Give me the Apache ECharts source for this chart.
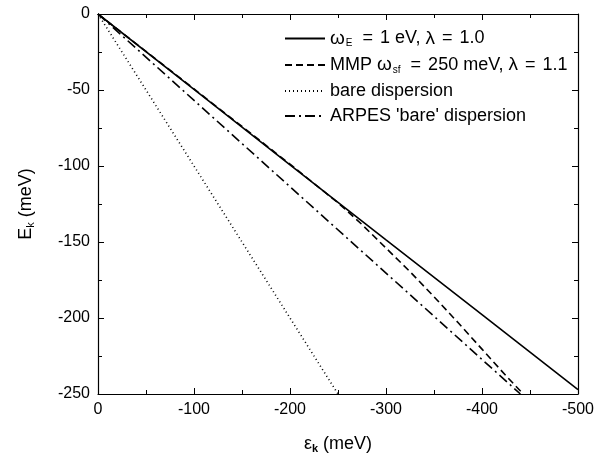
<!DOCTYPE html>
<html><head><meta charset="utf-8">
<script src="https://cdn.jsdelivr.net/npm/echarts@6/dist/echarts.min.js"></script>
<style>html,body{margin:0;padding:0;background:#fff}#c{width:600px;height:460px}</style>
</head><body><div id="c"></div>
<script>
// ---- data (meV) ----
var solidEps = [0, -100, -200, -300, -400, -500];
var solidE   = [0, -49.6, -99.2, -148.6, -197.8, -247.2];
var mmpEps = [0, -50, -100, -150, -200, -250, -275, -300, -325, -350, -375, -400, -425, -443];
var mmpE   = [0, -24.6, -49.3, -74, -98.8, -124.2, -138.5, -154, -169.5, -186, -203, -220.5, -238, -250];
var bareEps = [0, -250];
var bareE   = [0, -250];
var arpesEps = [0, -440];
var arpesE   = [0, -250];
var names = ['solid', 'mmp', 'bare', 'arpes'];

function zip(a, b) { return a.map(function (v, i) { return [v, b[i]]; }); }

var chart = echarts.init(document.getElementById('c'), null, {renderer: 'canvas'});
var FONT = 'Liberation Sans, Arial, sans-serif';
var axisLineStyle = {color: '#000', width: 1.2};
function xAxisCfg(pos, showLabel) {
  return {
    type: 'value', position: pos, min: -500, max: 0, interval: 100, inverse: true,
    axisLine: {show: true, onZero: false, lineStyle: axisLineStyle},
    axisTick: {show: true, inside: true, length: 6, lineStyle: {color: '#000'}},
    minorTick: {show: true, splitNumber: 2, length: 4, lineStyle: {color: '#000'}},
    splitLine: {show: false},
    axisLabel: {show: showLabel, color: '#000', fontFamily: FONT, fontSize: 16, margin: 8,
      formatter: function (v) { return String(v); }}
  };
}
function yAxisCfg(pos, showLabel) {
  return {
    type: 'value', position: pos, min: -250, max: 0, interval: 50,
    axisLine: {show: true, onZero: false, lineStyle: axisLineStyle},
    axisTick: {show: true, inside: true, length: 6, lineStyle: {color: '#000'}},
    minorTick: {show: true, splitNumber: 2, length: 4, lineStyle: {color: '#000'}},
    splitLine: {show: false},
    axisLabel: {show: showLabel, color: '#000', fontFamily: FONT, fontSize: 16, margin: 8,
      formatter: function (v) { return String(v); }}
  };
}
var xa = xAxisCfg('bottom', true);
xa.name = '{n|ε}{s|k}{n| (meV)}';
xa.nameLocation = 'middle';
xa.nameGap = 40;
xa.nameTextStyle = {rich: {n: {fontFamily: FONT, fontSize: 18, color: '#000'},
  s: {fontFamily: FONT, fontSize: 11, color: '#000', fontWeight: 'bold', verticalAlign: 'bottom', padding: [9, 0, 0, 0]}}};
var ya = yAxisCfg('left', true);
ya.name = '{n|E}{s|k}{n| (meV)}';
ya.nameLocation = 'middle';
ya.nameGap = 62;
ya.nameTextStyle = {rich: {n: {fontFamily: FONT, fontSize: 18, color: '#000'},
  s: {fontFamily: FONT, fontSize: 11, color: '#000', verticalAlign: 'bottom', padding: [9, 0, 0, 0]}}};

var labels = {
  solid: '{g|ω}{s|E}{e|=}{n|1 eV, }{g|λ}{e|=}{n|1.0}',
  mmp: '{n|MMP }{g|ω}{s|sf}{e|=}{n|250 meV, }{g|λ}{e|=}{n|1.1}',
  bare: '{n|bare dispersion}',
  arpes: "{n|ARPES 'bare' dispersion}"
};
function ser(name, eps, e, type) {
  return {
    name: name, type: 'line', data: zip(eps, e), showSymbol: false, symbol: 'none',
    lineStyle: {color: '#000', width: 1.6, type: type}, itemStyle: {color: '#000'},
    animation: false, silent: true
  };
}

chart.setOption({
  animation: false,
  grid: {left: 98, right: 22, top: 14, bottom: 66},
  xAxis: [xa, xAxisCfg('top', false)],
  yAxis: [ya, yAxisCfg('right', false)],
  legend: {
    orient: 'vertical', left: 279, top: 24, itemWidth: 40, itemHeight: 12, itemGap: 7,
    data: names,
    itemStyle: {opacity: 0},
    formatter: function (n) { return labels[n]; },
    textStyle: {rich: {
      n: {fontFamily: FONT, fontSize: 18, color: '#000', lineHeight: 20},
      g: {fontFamily: FONT, fontSize: 19, color: '#000', lineHeight: 20},
      e: {fontFamily: FONT, fontSize: 18, color: '#000', lineHeight: 20, padding: [0, 7, 0, 7]},
      s: {fontFamily: FONT, fontSize: 10, color: '#000', verticalAlign: 'bottom', padding: [8, 3, 0, 1]}}}
  },
  series: [
    ser('solid', solidEps, solidE, 'solid'),
    ser('mmp', mmpEps, mmpE, [7, 4]),
    ser('bare', bareEps, bareE, [1, 3]),
    ser('arpes', arpesEps, arpesE, [10, 4, 2, 4])
  ]
});
</script></body></html>
